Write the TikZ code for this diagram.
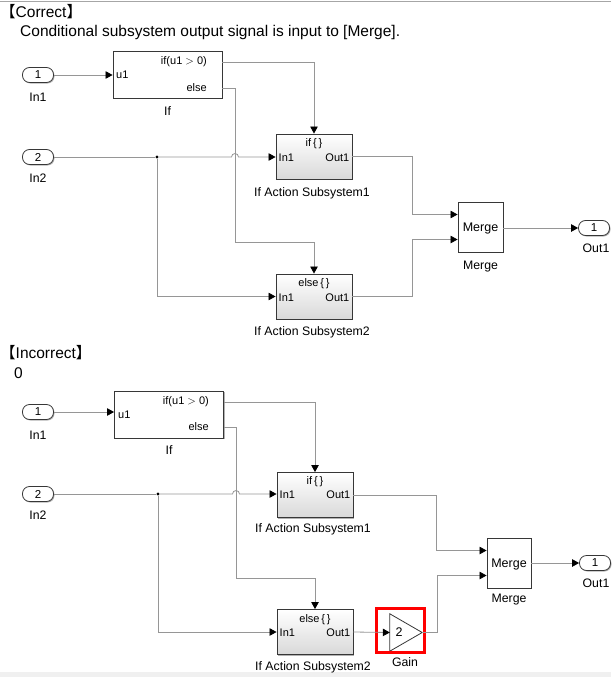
\documentclass[tikz,border=0pt]{standalone}
\usepackage{fontspec}
\setmainfont{Liberation Sans}
\newfontfamily\cjk{Noto Sans CJK JP}
\newfontfamily\blk{Liberation Sans}
\usetikzlibrary{arrows.meta,shadows,calc}
\definecolor{linegray}{RGB}{150,150,150}
\definecolor{edgec}{RGB}{55,55,55}
\definecolor{bandgray}{RGB}{240,240,240}
\begin{document}
\begin{tikzpicture}[x=1pt,y=-1pt,
  sig/.style={draw=linegray, line width=0.8pt},
  arr/.style={sig, -{Triangle[length=7pt,width=7.5pt,color=black]}},
  title/.style={font=\fontsize{15.5}{16}\selectfont, inner sep=0pt, anchor=west},
  port/.style={draw=edgec, line width=0.8pt, rounded corners=7pt, minimum width=31pt, minimum height=15pt, inner sep=0pt, fill=white, font=\blk\fontsize{11.5}{11.5}\selectfont, drop shadow={shadow xshift=1pt, shadow yshift=-1pt, fill=gray!60, opacity=1}},
  plain/.style={draw=edgec, line width=0.9pt, fill=white, inner sep=0pt, drop shadow={shadow xshift=1.2pt, shadow yshift=-1.2pt, fill=gray!60, opacity=1}},
  sub/.style={draw=edgec, line width=0.9pt, top color=white, bottom color=gray!30, minimum width=76pt, minimum height=45pt, inner sep=0pt, drop shadow={shadow xshift=1.2pt, shadow yshift=-1.2pt, fill=gray!60, opacity=1}},
  lbl/.style={font=\blk\fontsize{12.3}{12.3}\selectfont, inner sep=0pt},
  intext/.style={font=\blk\fontsize{11}{11}\selectfont, inner sep=0pt},
  mtext/.style={font=\blk\fontsize{12.5}{12.5}\selectfont, inner sep=0pt},
  jdot/.style={circle, fill=black, inner sep=0pt, minimum size=3.4pt}
]
\useasboundingbox (0,0) rectangle (611,677);
% page frame
\draw[draw=gray!70, line width=1.5pt] (0,1.5) -- (611,1.5);
\fill[bandgray] (0,672) rectangle (611,677);

% ================= CORRECT =================
\node[title] (t1) at (0,12) {{\cjk 【}Correct{\cjk 】}};
\node[title] (t2) at (20,32) {Conditional subsystem output signal is input to [Merge].};

\node[port] (In1a) at (38,75) {1};
\node[lbl] at (38,97) {In1};
\node[port] (In2a) at (38,157) {2};
\node[lbl] at (38,178) {In2};

\node[plain, minimum width=109pt, minimum height=47pt] (Ifa) at (167.5,74.5) {};
\node[intext, anchor=west] at (116,75) {u1};
\node[intext, anchor=east] at (207,62) {if(u1 $>$ 0)};
\node[intext, anchor=east] at (207,88) {else};
\node[lbl] at (167.5,111) {If};

\node[sub] (S1a) at (314,156.5) {};
\node[intext] at (314,144) {if\,\{\,\}};
\node[intext, anchor=west] at (278.5,157.5) {In1};
\node[intext, anchor=east] at (349.5,157.5) {Out1};
\node[lbl] at (312,193) {If Action Subsystem1};

\node[sub] (S2a) at (314,296.5) {};
\node[intext] at (314,284) {else\,\{\,\}};
\node[intext, anchor=west] at (278.5,297.5) {In1};
\node[intext, anchor=east] at (349.5,297.5) {Out1};
\node[lbl] at (312,332) {If Action Subsystem2};

\node[plain, minimum width=45pt, minimum height=50pt] (Ma) at (480.5,227) {};
\node[mtext] at (480.5,228) {Merge};
\node[lbl] at (480.5,267) {Merge};

\node[port] (Oa) at (594,228) {1};
\node[lbl] at (596,248) {Out1};

\node[jdot] (ja) at (157,157) {};

\draw[arr] (In1a.east) -- (In1a.east -| Ifa.west);
\draw[arr] (Ifa.east |- 0,62) -| (S1a.north);
\draw[arr] (Ifa.east |- 0,88) -- (235,88) -- (235,242) -| (S2a.north);
\draw[sig] (In2a.east) -- (ja);
\draw[arr] (ja) -- (231.5,157) arc[start angle=180, end angle=360, radius=3.5] -- (S1a.west |- ja);
\draw[arr] (ja) |- (S2a.west);
\draw[arr] (S1a.east) -- (412,156.5) |- ($(Ma.west)+(0,-12.5)$);
\draw[arr] (S2a.east) -- (412,296.5) |- ($(Ma.west)+(0,12.5)$);
\draw[arr] (Ma.east |- Oa.west) -- (Oa.west);

% ================= INCORRECT =================
\node[title] (t3) at (0,353) {{\cjk 【}Incorrect{\cjk 】}};
\node[title] (t4) at (14,373) {0};

\node[port] (In1b) at (38,412) {1};
\node[lbl] at (38,435) {In1};
\node[port] (In2b) at (38,494) {2};
\node[lbl] at (38,515) {In2};

\node[plain, minimum width=109pt, minimum height=47pt] (Ifb) at (169,414.5) {};
\node[intext, anchor=west] at (118,415) {u1};
\node[intext, anchor=east] at (209,402) {if(u1 $>$ 0)};
\node[intext, anchor=east] at (209,427) {else};
\node[lbl] at (169,450) {If};

\node[sub] (S1b) at (315,495) {};
\node[intext] at (315,482) {if\,\{\,\}};
\node[intext, anchor=west] at (279.5,495) {In1};
\node[intext, anchor=east] at (350.5,495) {Out1};
\node[lbl] at (313,529) {If Action Subsystem1};

\node[sub] (S2b) at (315,632) {};
\node[intext] at (315,620) {else\,\{\,\}};
\node[intext, anchor=west] at (279.5,633) {In1};
\node[intext, anchor=east] at (350.5,633) {Out1};
\node[lbl] at (313,667) {If Action Subsystem2};

\node[inner sep=0pt, minimum width=32pt, minimum height=37pt] (G) at (406,632.5) {};
\draw[draw=edgec, line width=0.8pt, fill=white] (G.north west) -- (G.east) -- (G.south west) -- cycle;
\node[mtext] at (399,632.5) {2};
\node[draw=red, line width=2.2pt, minimum width=48pt, minimum height=44pt, inner sep=0pt] (Gbox) at (400.5,630.5) {};
\node[lbl] at (405,662) {Gain};

\node[plain, minimum width=44pt, minimum height=50pt] (Mb) at (509,563) {};
\node[mtext] at (509,564) {Merge};
\node[lbl] at (509,600) {Merge};

\node[port] (Ob) at (595,563) {1};
\node[lbl] at (596,583) {Out1};

\node[jdot] (jb) at (158,494) {};

\draw[arr] (In1b.east) -- (In1b.east -| Ifb.west);
\draw[arr] (Ifb.east |- 0,402) -| (S1b.north);
\draw[arr] (Ifb.east |- 0,427) -- (236,427) -- (236,578) -| (S2b.north);
\draw[sig] (In2b.east) -- (jb);
\draw[arr] (jb) -- (232.5,494) arc[start angle=180, end angle=360, radius=3.5] -- (S1b.west |- jb);
\draw[arr] (jb) |- (S2b.west);
\draw[arr] (S1b.east) -- (436,495) |- ($(Mb.west)+(0,-12.5)$);
\draw[arr] (S2b.east) -- (G.west);
\draw[arr] (G.east) -- (437,632.5) |- ($(Mb.west)+(0,12.5)$);
\draw[arr] (Mb.east |- Ob.west) -- (Ob.west);
\end{tikzpicture}
\end{document}
